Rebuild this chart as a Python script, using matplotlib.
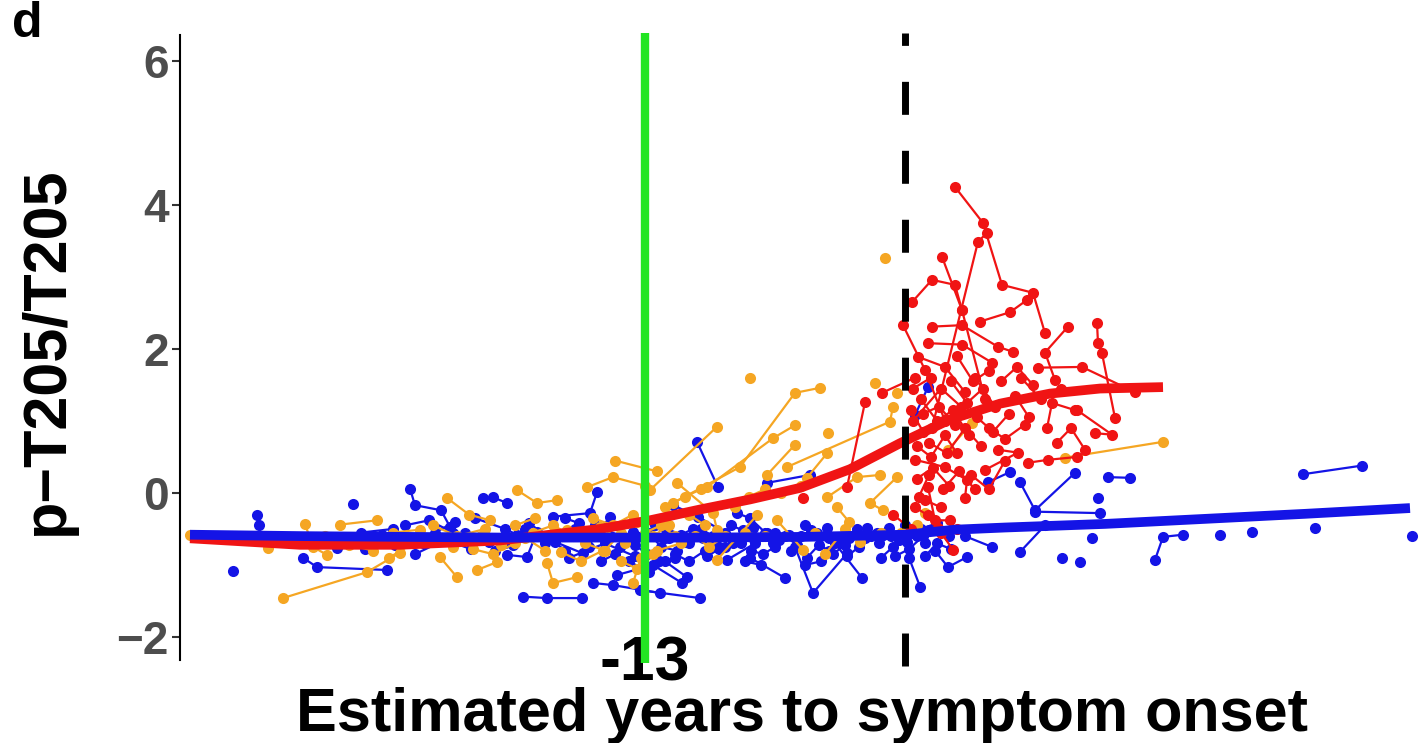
import matplotlib
matplotlib.use("Agg")
import matplotlib.pyplot as plt

plt.rcParams['font.family'] = ['Liberation Sans', 'DejaVu Sans']

# ---------------- data (years to onset, p-T205/T205) ----------------
blue_subjects = [
    [(-33.6, -1.08)],
    [(-32.4, -0.31), (-32.3, -0.44)],
    [(-30.1, -0.90), (-29.4, -1.03), (-25.9, -1.07)],
    [(-27.6, -0.15)],
    [(-24.75, 0.06), (-24.5, -0.17), (-23.2, -0.24), (-22.75, -0.47)],
    [(-26.15, -0.58), (-24.1, -0.69), (-22.3, -0.62)],
    [(-28.4, -0.76), (-27.2, -0.55), (-25.6, -0.50)],
    [(-21.1, -0.07), (-20.6, -0.06), (-19.9, -0.14)],
    [(-21.5, -0.35), (-20.0, -0.50), (-19.4, -0.58)],
    [(-19.9, -0.86), (-18.9, -0.89), (-18.4, -0.54)],
    [(-17.6, -0.33), (-15.75, -0.28), (-15.4, 0.01)],
    [(-17.5, -0.68), (-16.1, -0.84), (-14.75, -0.33)],
    [(-19.1, -1.44), (-17.9, -1.46), (-16.15, -1.46)],
    [(-15.6, -1.25), (-14.6, -1.28), (-12.25, -1.39)],
    [(-14.4, -1.14), (-12.6, -1.00), (-11.15, -1.25)],
    [(-13.25, -1.35), (-10.25, -1.46)],
    [(-14.25, -0.75), (-13.6, -0.54), (-12.0, -0.62)],
    [(-10.4, 0.71), (-9.35, 0.08)],
    [(-6.9, 0.14), (-4.75, 0.25)],
    [(-11.6, -0.17), (-10.35, -0.33), (-9.0, -0.55)],
    [(-8.4, -0.28), (-7.75, -0.35), (-6.8, -0.60)],
    [(-8.9, -0.93), (-7.5, -0.70), (-6.5, -0.55)],
    [(-7.75, -0.90), (-6.0, -1.18)],
    [(-5.5, -0.75), (-4.6, -1.39), (-2.9, -0.84)],
    [(-3.5, -0.70), (-2.15, -1.18)],
    [(-10.9, -1.17), (-12.0, -0.95)],
    [(-27.0, -0.78), (-25.5, -0.72)],
    [(-24.5, -0.85), (-23.0, -0.65), (-21.7, -0.78)],
    [(-22.0, -0.55), (-20.8, -0.68)],
    [(-18.0, -0.70), (-17.0, -0.55), (-16.0, -0.62)],
    [(-16.8, -0.90), (-15.0, -0.70), (-13.5, -0.88)],
    [(-15.5, -0.45), (-14.2, -0.60)],
    [(-13.8, -0.95), (-12.8, -1.10), (-11.5, -0.90)],
    [(-25.0, -0.45), (-23.8, -0.38), (-22.6, -0.55)],
    [(-20.5, -0.80), (-19.6, -0.72)],
    [(-18.8, -0.42), (-17.9, -0.60), (-17.0, -0.80)],
    [(-16.5, -0.50), (-15.8, -0.75)],
    [(-15.2, -0.95), (-14.5, -0.85), (-13.8, -0.65)],
    [(-12.8, -0.55), (-12.2, -0.75), (-11.4, -0.80)],
    [(-11.9, -0.50), (-11.2, -0.58), (-10.6, -0.50)],
    [(-10.8, -0.70), (-10.1, -0.62), (-9.5, -0.72)],
    [(-9.9, -0.88), (-9.3, -0.78), (-8.6, -0.70)],
    [(-8.7, -0.45), (-8.1, -0.52), (-7.6, -0.48)],
    [(-7.7, -0.80), (-7.1, -0.85), (-6.5, -0.75)],
    [(-6.9, -0.55), (-6.3, -0.65), (-5.8, -0.58)],
    [(-5.7, -0.80), (-5.2, -0.60), (-4.7, -0.52)],
    [(-4.9, -0.90), (-4.3, -0.72), (-3.8, -0.80)],
    [(-3.9, -0.48), (-3.3, -0.68), (-2.8, -0.62)],
    [(-2.9, -0.88), (-2.3, -0.75), (-1.7, -0.60)],
    [(-1.9, -0.48), (-1.3, -0.70), (-0.7, -0.60)],
    [(-1.2, -0.90), (-0.6, -0.75), (0.1, -0.68)],
    [(0.0, -0.45), (0.6, -0.60), (1.2, -0.52)],
    [(1.0, -0.88), (1.6, -0.70), (2.3, -0.78)],
    [(-0.3, -0.65), (0.4, -0.55), (1.0, -0.70)],
    [(0.8, -0.50), (1.6, -0.42), (2.2, -0.60)],
    [(1.5, -0.80), (2.15, -1.03), (3.1, -0.89)],
    [(0.2, -0.90), (0.75, -1.30)],
    [(-12.5, -0.45), (-11.8, -0.62), (-11.0, -0.68)],
    [(-10.2, -0.50), (-9.6, -0.60), (-9.0, -0.75)],
    [(-8.2, -0.70), (-7.6, -0.62), (-7.0, -0.55)],
    [(-6.6, -0.70), (-6.0, -0.60), (-5.4, -0.72)],
    [(-5.0, -0.45), (-4.4, -0.55), (-3.8, -0.62)],
    [(-3.6, -0.85), (-3.0, -0.72), (-2.4, -0.50)],
    [(-2.0, -0.62), (-1.4, -0.55), (-0.8, -0.48)],
    [(-0.5, -0.88), (0.2, -0.78), (0.9, -0.60)],
    [(-13.5, -0.72), (-12.9, -0.85), (-12.3, -0.95)],
    [(-11.5, -0.85), (-10.8, -0.95), (-10.0, -0.80)],
    [(-8.0, -0.95), (-7.2, -1.00)],
    [(-5.0, -1.00), (-4.2, -0.95)],
    [(-23.5, -0.55), (-22.5, -0.40)],
    [(-21.0, -0.60), (-20.0, -0.70), (-19.0, -0.50)],
    [(-17.0, -0.35), (-16.3, -0.42)],
    [(1.15, 1.47), (0.5, 1.08)],
    [(4.15, 0.15), (5.25, 0.29)],
    [(5.75, 0.15), (6.5, -0.24), (8.5, 0.28)],
    [(10.15, 0.22), (11.25, 0.21)],
    [(9.65, -0.07)],
    [(6.5, -0.26), (9.75, -0.28)],
    [(9.35, -0.63)],
    [(5.75, -0.82), (7.0, -0.45)],
    [(7.85, -0.90)],
    [(8.75, -0.96)],
    [(4.35, -0.75), (3.0, -0.60)],
    [(12.5, -0.93), (12.9, -0.61), (13.9, -0.58)],
    [(15.75, -0.58)],
    [(17.35, -0.54)],
    [(20.5, -0.49)],
    [(25.35, -0.60)],
    [(19.9, 0.26), (22.85, 0.38)],
]

orange_subjects = [
    [(-35.75, -0.58)],
    [(-31.85, -0.76)],
    [(-31.1, -1.46), (-26.9, -1.10), (-25.25, -0.83)],
    [(-30.0, -0.43), (-29.6, -0.75), (-28.9, -0.86)],
    [(-28.25, -0.44), (-26.4, -0.38)],
    [(-26.9, -0.65), (-25.6, -0.55), (-24.25, -0.51)],
    [(-22.9, -0.07), (-21.8, -0.30), (-20.75, -0.38)],
    [(-23.25, -0.89), (-22.4, -1.17)],
    [(-21.4, -1.07), (-20.4, -0.96)],
    [(-19.4, 0.04), (-18.4, -0.14), (-17.4, -0.10)],
    [(-17.9, -0.97), (-17.6, -1.25), (-16.4, -1.17)],
    [(-15.9, 0.08), (-14.6, 0.22), (-13.0, 0.10)],
    [(-16.9, -0.51), (-15.25, -0.47), (-14.0, -0.70)],
    [(-13.6, -1.25), (-13.2, -0.90)],
    [(-12.75, 0.04), (-9.4, 0.92)],
    [(-11.6, -0.14), (-8.25, 0.36), (-5.5, 1.39), (-4.25, 1.46)],
    [(-7.75, 1.60)],
    [(-9.9, 0.08), (-6.6, 0.76), (-5.5, 0.94)],
    [(-11.4, 0.14), (-9.6, -0.28), (-9.4, -0.51)],
    [(-9.4, -0.93), (-7.4, -0.31)],
    [(-6.9, 0.25), (-5.5, 0.67)],
    [(-5.9, 0.36), (-0.75, 0.99), (-0.6, 1.20)],
    [(-3.85, 0.83)],
    [(-4.9, 0.21), (-3.9, 0.55)],
    [(-6.4, -0.38), (-5.1, -0.79)],
    [(-3.9, -0.06), (-2.4, 0.22), (-1.25, 0.25)],
    [(-1.5, 1.53)],
    [(-0.4, 0.22), (-1.75, -0.14), (-1.1, -0.24)],
    [(-2.25, -0.68)],
    [(-1.0, 3.26)],
    [(-0.4, 1.39)],
    [(2.15, 0.60), (3.35, 0.97)],
    [(8.0, 0.49), (12.9, 0.71)],
    [(1.0, -0.28)],
    [(-24.0, -0.62), (-22.6, -0.75), (-21.2, -0.60)],
    [(-20.2, -0.72), (-19.0, -0.62), (-18.0, -0.80)],
    [(-19.5, -0.45), (-18.5, -0.35)],
    [(-16.0, -0.70), (-15.0, -0.80), (-14.2, -0.55)],
    [(-13.4, -0.40), (-12.6, -0.60), (-11.8, -0.45)],
    [(-12.4, -0.80), (-11.2, -0.70)],
    [(-10.8, -0.30), (-10.0, -0.45)],
    [(-8.0, -0.55), (-7.0, -0.60)],
    [(-4.5, -0.55)],
    [(-29.0, -0.60), (-27.8, -0.72), (-26.6, -0.80)],
    [(-25.8, -0.90), (-24.6, -0.70)],
    [(-23.6, -0.45), (-22.4, -0.60), (-21.0, -0.50)],
    [(-21.6, -0.78), (-20.6, -0.85), (-19.5, -0.70)],
    [(-18.6, -0.55), (-17.6, -0.45), (-16.6, -0.60)],
    [(-17.2, -0.82), (-16.2, -0.95), (-15.1, -0.80)],
    [(-15.6, -0.35), (-14.6, -0.45), (-13.6, -0.30)],
    [(-14.2, -0.95), (-13.4, -1.05), (-12.6, -0.85)],
    [(-13.0, -0.55), (-12.2, -0.45), (-11.5, -0.60)],
    [(-12.0, -0.20), (-11.0, -0.05), (-10.2, 0.05)],
    [(-10.5, -0.60), (-9.8, -0.75), (-9.0, -0.60)],
    [(-8.5, -0.20), (-7.8, -0.05), (-7.0, 0.05)],
    [(-6.2, 0.00), (-5.2, 0.10)],
    [(-3.4, -0.20), (-2.8, -0.40)],
    [(-1.2, -0.55), (-0.2, -0.55), (0.6, -0.45)],
    [(-4.0, -0.85), (-3.0, -0.50)],
    [(-14.5, 0.45), (-12.4, 0.30)],
]

red_subjects = [
    [(2.5, 4.25), (3.9, 3.75), (4.85, 2.89), (6.4, 2.78), (7.0, 2.22)],
    [(4.1, 3.61), (3.65, 3.49), (1.35, 0.90)],
    [(0.35, 2.65), (1.35, 2.96), (2.5, 2.89), (2.85, 2.54)],
    [(1.85, 3.28), (2.85, 2.54), (4.0, 1.30)],
    [(-0.1, 2.33), (1.0, 1.71), (2.0, 1.00)],
    [(6.1, 2.68), (5.25, 2.51), (3.75, 2.38)],
    [(1.35, 2.31), (2.85, 2.33), (4.65, 2.03), (5.4, 1.96)],
    [(8.15, 2.31), (7.0, 1.95), (7.5, 1.57)],
    [(9.6, 2.36), (9.65, 2.08), (9.85, 1.94), (10.5, 1.04)],
    [(1.15, 2.08), (2.85, 2.06), (4.35, 1.81)],
    [(6.65, 1.74), (8.85, 1.75), (11.5, 1.40)],
    [(0.65, 1.89), (2.0, 1.75), (3.0, 1.40)],
    [(8.5, 1.15), (7.35, 1.25), (7.1, 0.90)],
    [(9.5, 0.83), (10.35, 0.81), (8.6, 1.15)],
    [(6.15, 0.42), (7.15, 0.46), (8.6, 0.50)],
    [(4.65, 0.60), (5.65, 0.56), (4.0, 0.32)],
    [(0.5, 0.46), (2.0, 0.36), (3.1, 0.18), (3.0, -0.07)],
    [(1.15, 0.08), (1.5, -0.38), (2.25, -0.38)],
    [(-2.0, 1.26), (-2.9, 0.08)],
    [(-1.15, 1.39), (0.5, 1.60)],
    [(-5.1, -0.07)],
    [(-0.6, -0.30), (0.3, -0.50)],
    [(0.8, 1.30), (1.6, 1.00), (2.4, 1.15), (3.2, 0.80)],
    [(1.2, 0.70), (2.1, 0.55), (3.0, 0.90), (3.8, 0.65)],
    [(0.4, 1.00), (1.8, 1.45), (2.8, 1.20)],
    [(3.5, 1.60), (4.5, 1.20), (5.5, 1.35), (6.2, 1.05)],
    [(4.2, 0.90), (5.0, 0.75), (6.0, 0.95)],
    [(0.6, 0.20), (1.4, 0.35), (2.2, 0.10)],
    [(2.6, 1.90), (3.4, 1.55), (4.2, 1.70)],
    [(5.8, 1.60), (6.8, 1.30), (7.8, 1.45)],
    [(0.3, 1.15), (0.9, 0.85)],
    [(3.3, 0.25), (4.2, 0.05), (5.0, 0.45)],
    [(1.0, -0.10), (1.8, -0.20)],
    [(0.5, -0.20), (1.15, -0.31), (1.65, -0.49), (2.4, -0.79)],
    [(0.6, 0.65), (1.3, 0.50), (2.0, 0.80), (2.6, 0.55)],
    [(0.9, 1.10), (1.7, 1.20), (2.5, 0.95)],
    [(1.9, 0.05), (2.7, 0.30), (3.5, 0.05)],
    [(0.7, -0.05), (1.2, 0.25)],
    [(3.6, 1.05), (4.4, 0.85), (5.2, 1.10)],
    [(2.3, 1.55), (3.1, 1.25), (3.9, 1.45)],
    [(4.8, 1.55), (5.6, 1.75), (6.4, 1.50)],
    [(0.4, 1.45), (1.3, 1.60)],
    [(7.6, 0.70), (8.3, 0.90), (9.0, 0.60)],
    [(1.8, -0.55), (2.6, -0.50)],
]

red_fit_years = [-35.75, -30.25, -25.25, -20.25, -15.25, -12.75, -10.25, -7.75,
                 -5.25, -2.75, -0.25, 2.25, 4.75, 7.25, 9.75, 12.9]
red_fit_vals = [-0.63, -0.72, -0.72, -0.66, -0.50, -0.38, -0.23, -0.09,
                0.07, 0.33, 0.69, 1.02, 1.24, 1.38, 1.45, 1.47]

blue_fit_years = [-35.75, -30.0, -20.0, -10.0, -5.0, 0.0, 2.5, 5.0, 10.0, 15.0, 20.0, 25.25]
blue_fit_vals = [-0.58, -0.60, -0.62, -0.62, -0.61, -0.58, -0.51, -0.48, -0.43, -0.36, -0.29, -0.21]

y_ticks = [-2, 0, 2, 4, 6]
y_tick_labels = ['\u22122', '0', '2', '4', '6']
marker_year = -13
onset_year = 0

# ---------------- drawing ----------------
W, H = 1421, 743
fig = plt.figure(figsize=(W / 100, H / 100), dpi=100)
ax = fig.add_axes([180 / W, 1 - 660 / H, 1241 / W, 625 / H])
ax.set_xlim(-36.25, 25.8)
ax.set_ylim(-2.32, 6.36)

c_blue = '#1414E6'
c_orange = '#F5A623'
c_red = '#F01414'


def draw(group, color, z):
    for subj in group:
        xs = [p[0] for p in subj]
        ys = [p[1] for p in subj]
        ax.plot(xs, ys, '-', color=color, lw=1.6, zorder=z)
        ax.plot(xs, ys, 'o', color=color, ms=8, mew=0, zorder=z)


draw(blue_subjects, c_blue, 2)
draw(orange_subjects, c_orange, 3)
draw(red_subjects, c_red, 4)

ax.plot(red_fit_years, red_fit_vals, '-', color=c_red, lw=7, solid_capstyle='butt', zorder=5)
ax.plot(blue_fit_years, blue_fit_vals, '-', color=c_blue, lw=7, solid_capstyle='butt', zorder=5)

# onset (dashed) and -13 (green) reference lines
ax.plot([onset_year, onset_year], [-2.40, 6.39], color='black', lw=5,
        ls=(0, (4.75, 5.18)), dash_capstyle='butt', clip_on=False, zorder=8)
ax.text(marker_year, -2.61, '-13', ha='center', va='baseline', fontsize=45,
        fontweight='bold', color='black', zorder=7, clip_on=False)
ax.plot([marker_year, marker_year], [-2.36, 6.39], color='#22E522', lw=6,
        solid_capstyle='butt', clip_on=False, zorder=9)

# axes styling
for s in ['top', 'right', 'bottom']:
    ax.spines[s].set_visible(False)
ax.spines['left'].set_linewidth(1.5)
ax.spines['left'].set_color('black')
ax.set_xticks([])
ax.set_yticks(y_ticks)
ax.set_yticklabels(y_tick_labels, fontsize=33, fontweight='bold', color='#4D4D4D')
ax.tick_params(axis='y', length=6, width=1.5, color='#333333', pad=2)

fig.text(47 / W, 1 - 351 / H, 'p\u2212T205/T205', rotation=90, ha='center', va='center',
         fontsize=44, fontweight='bold', color='black')
fig.text(802 / W, 1 - 731 / H, 'Estimated years to symptom onset', ha='center', va='baseline',
         fontsize=44, fontweight='bold', color='black')
fig.text(12 / W, 1 - 37 / H, 'd', ha='left', va='baseline', fontsize=36, fontweight='bold',
         color='black')

fig.savefig('out.png', dpi=100)
